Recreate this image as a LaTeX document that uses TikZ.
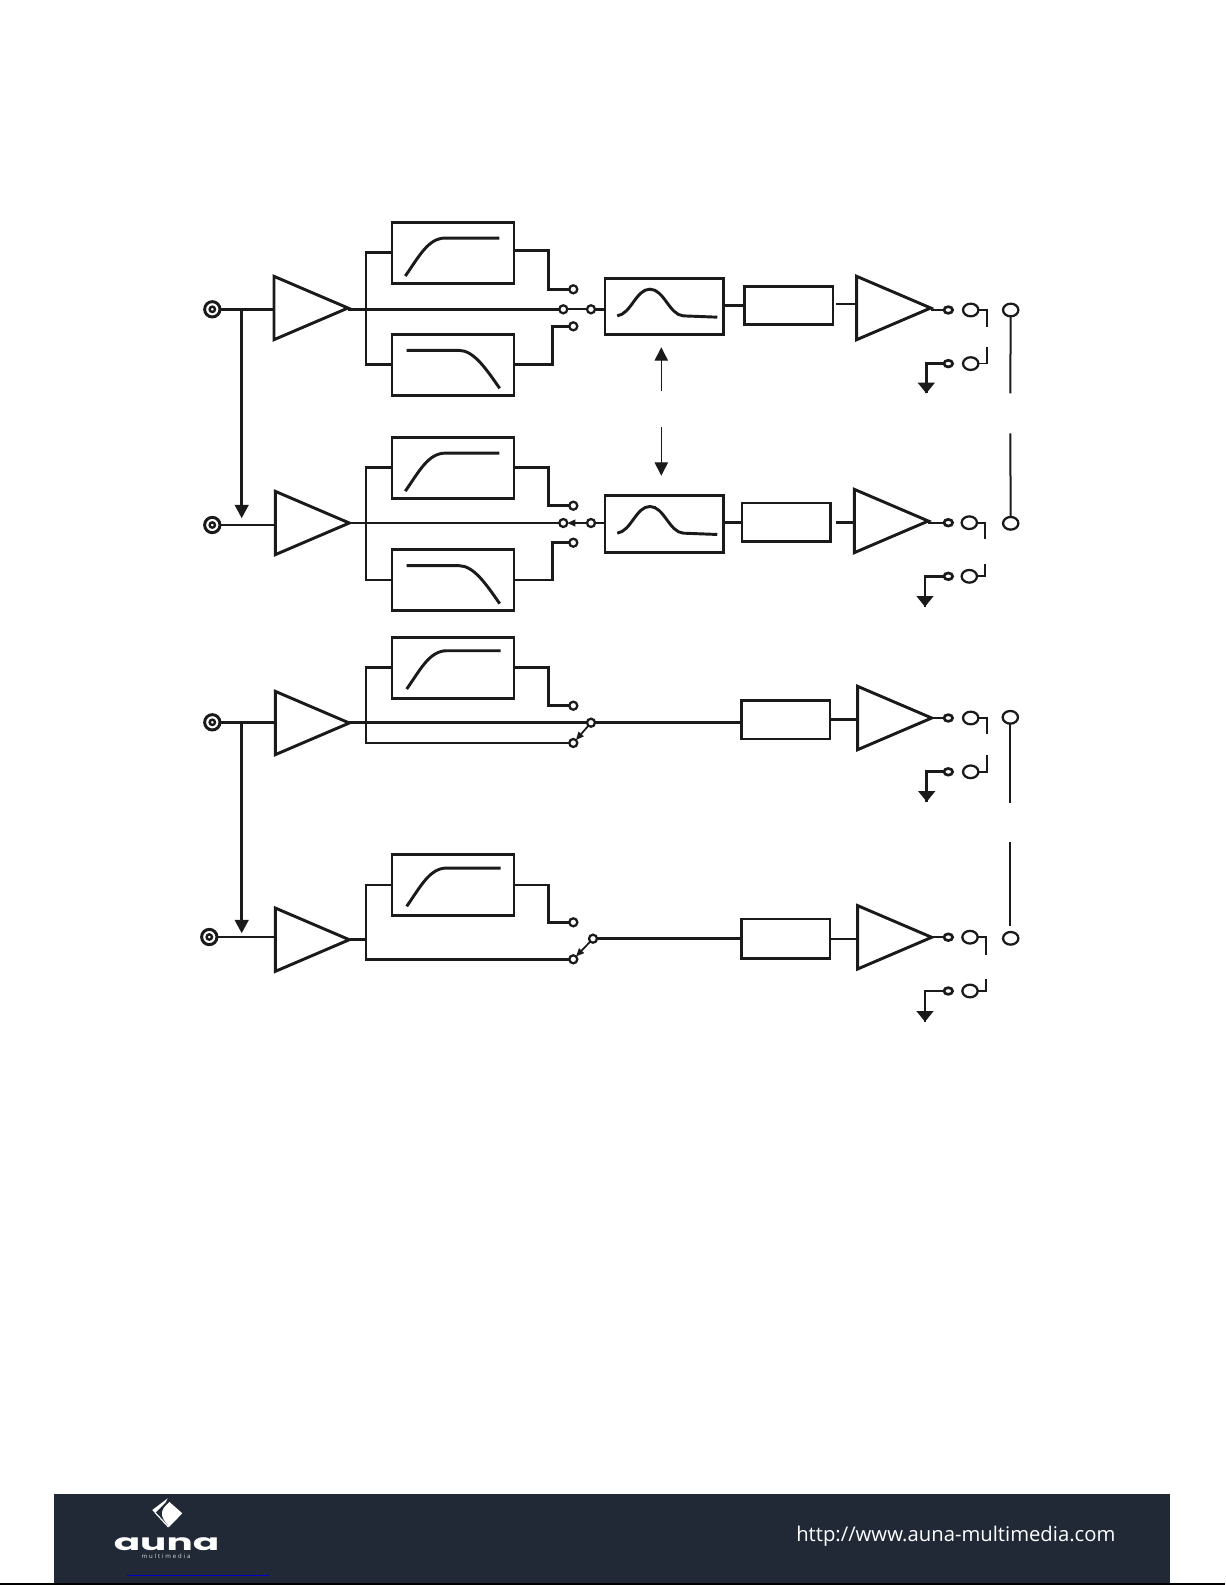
\documentclass[tikz,border=0pt]{standalone}
\usepackage{xcolor}
\usepackage{fontspec}
\usepackage{tikz}
\usetikzlibrary{shapes,shapes.geometric,arrows.meta,positioning,calc}
\newfontfamily\urlfont{Open Sans}
\newfontfamily\logofont{Poppins}
\definecolor{InkBlack}{HTML}{1A1A1A}
\definecolor{BarNavy}{HTML}{212936}
\definecolor{LinkBlue}{HTML}{0000C8}
\tikzset{
  wire/.style={InkBlack,line width=2.2pt},
  thinwire/.style={InkBlack,line width=1.3pt},
  filterbox/.style={draw=InkBlack,line width=2.2pt,fill=white,inner sep=0pt,outer sep=0pt,minimum width=91.5pt,minimum height=46pt},
  eqbox/.style={draw=InkBlack,line width=2.2pt,fill=white,inner sep=0pt,outer sep=0pt,minimum width=89pt,minimum height=42.5pt},
  gainbox/.style={draw=InkBlack,line width=2pt,fill=white,inner sep=0pt,outer sep=0pt,minimum width=66.5pt,minimum height=28.5pt},
  amp/.style={draw=InkBlack,line width=2.2pt,fill=white,isosceles triangle,isosceles triangle stretches,inner sep=0pt,outer sep=0pt,minimum width=47.5pt,minimum height=55.5pt,anchor=apex},
  contact/.style={circle,draw=InkBlack,line width=1.7pt,fill=white,inner sep=0pt,outer sep=0pt,minimum size=6pt},
  outpin/.style={ellipse,draw=InkBlack,line width=2pt,fill=white,inner sep=0pt,outer sep=0pt,minimum width=6.5pt,minimum height=5pt},
  socket/.style={ellipse,draw=InkBlack,line width=1.7pt,fill=white,inner sep=0pt,outer sep=0pt,minimum width=11.5pt,minimum height=9.5pt},
  jack/.style={circle,draw=InkBlack,line width=2.2pt,fill=white,inner sep=0pt,outer sep=0pt,minimum size=11.5pt},
  jackeye/.style={circle,draw=InkBlack,line width=1.8pt,fill=white,inner sep=0pt,outer sep=0pt,minimum size=4pt},
  gnd/.style={isosceles triangle,isosceles triangle stretches,shape border rotate=270,fill=InkBlack,inner sep=0pt,outer sep=0pt,minimum width=13pt,minimum height=8pt,anchor=apex},
  bigtip/.style={-{Triangle[width=10pt,length=10pt]}},
  smalltip/.style={-{Triangle[width=5pt,length=6pt]}},
}

\begin{document}
\begin{tikzpicture}[x=0.75pt,y=-0.75pt]
  \useasboundingbox (0,0) rectangle (1225,1585);
  \fill[white] (0,0) rectangle (1225,1585);

  % inputs
  \node[jack] (ja) at (212.3,309.3) {};
  \node[jack] (jb) at (212.3,525) {};
  \node[jack] (jc) at (212.3,722.3) {};
  \node[jack] (jd) at (209.3,937) {};
  \foreach \n in {ja,jb,jc,jd}
    \node[jackeye] (\n eye) at (\n) {};

  % preamps
  \node[amp] (aa) at (348,308) {};
  \node[amp] (ab) at (349.3,523) {};
  \node[amp] (ac) at (349.3,723) {};
  \node[amp] (ad) at (349.3,939.7) {};

  % filters
  \node[filterbox] (hpa) at (453,252.7) {};
  \node[filterbox] (lpa) at (453,364.7) {};
  \node[filterbox] (hpb) at (453,467.8) {};
  \node[filterbox] (lpb) at (453,580) {};
  \node[filterbox] (hpc) at (453,667.7) {};
  \node[filterbox] (hpd) at (453,885) {};

  % selector contacts
  \node[contact] (ca1) at (573.3,289.3) {};
  \node[contact] (ca2) at (563.3,309.3) {};
  \node[contact] (ca3) at (573.3,326.3) {};
  \node[contact] (ca4) at (591,309.3) {};
  \node[contact] (cb1) at (573.3,505.7) {};
  \node[contact] (cb2) at (563.3,523) {};
  \node[contact] (cb3) at (573.3,542.7) {};
  \node[contact] (cb4) at (591,523) {};
  \node[contact] (cc1) at (573.3,705.7) {};
  \node[contact] (cc3) at (573.3,743) {};
  \node[contact] (cc4) at (591,722.7) {};
  \node[contact] (cd1) at (573.3,922.3) {};
  \node[contact] (cd3) at (573.3,959.3) {};
  \node[contact] (cd4) at (593,938.7) {};

  % eq and gain blocks
  \node[eqbox] (ea) at (664.3,306.5) {};
  \node[eqbox] (eb) at (664.3,523.8) {};
  \node[gainbox] (ga) at (788.5,305.3) {};
  \node[gainbox,minimum height=29pt] (gb) at (786.3,522.3) {};
  \node[gainbox,minimum height=29pt] (gc) at (785.5,719.5) {};
  \node[gainbox,minimum height=29.8pt] (gd) at (785.5,938.8) {};
  \node[amp] (ae) at (930.7,308) {};
  \node[amp] (af) at (928.3,521) {};
  \node[amp] (ag) at (931.7,718) {};
  \node[amp] (ah) at (931.7,937.3) {};

  % filter curves
  \foreach \b in {hpa,hpb}
    \draw[wire] ($(\b.north west)+(13.3,54)$) .. controls +(14,-20) and +(-17,0) .. ++(40,-38) -- ++(54,0);
  \foreach \b in {hpc,hpd}
    \draw[wire] ($(\b.north west)+(14.7,52)$) .. controls +(14,-20) and +(-17,0) .. ++(40,-38.3) -- ++(54,0);
  \foreach \b in {lpa,lpb}
    \draw[wire] ($(\b.north west)+(14.7,16.3)$) -- ++(52,0) .. controls +(15,0) and +(-14,-20) .. ++(41,38);
  \foreach \b in {ea,eb}
    \draw[wire] ($(\b.north west)+(12.3,37.7)$) .. controls +(14,-2) and +(-14,0) .. ++(32.7,-26.7)
      .. controls +(14,0) and +(-14,-1) .. ++(33.3,26.7) -- ++(34,1.3);

  % inputs to amps
  \foreach \j/\a in {ja/aa,jb/ab,jc/ac,jd/ad}
    \draw[wire] (\j) -- (\j -| \a.lower side);
  \coordinate (splita) at (241.7,309.3);
  \coordinate (tipa) at (241.7,518.3);
  \coordinate (splitc) at (241.7,724);
  \coordinate (tipc) at (241.7,933.3);
  \draw[wire,bigtip] (splita) -- (tipa);
  \draw[wire,bigtip] (splitc) -- (tipc);

  % top pair
  \coordinate (busa) at (366,309.3);
  \coordinate (busb) at (366,522.3);
  \coordinate (busc) at (366,722.3);
  \coordinate (busd) at (366,939.7);
  \draw[wire] (ca2.west -| aa.apex) -- (ca2.west);
  \draw[wire] (hpa.west) -| (busa) |- (lpa.west);
  \draw[wire] ([yshift=2pt]hpa.east) -| ($(ca1.west)+(-21,0)$) -- (ca1.west);
  \draw[wire] (lpa.east) -| ($(ca3.west)+(-17,0)$) -- (ca3.west);
  \draw[thinwire] (ca2) -- (ca4);
  \draw[wire] (ca4) -- (ca4 -| ea.west);

  \draw[wire] (cb2.west -| ab.apex) -- (cb2.west);
  \draw[wire] (hpb.west) -| (busb) |- (lpb.west);
  \draw[wire] (hpb.east) -| ($(cb1.west)+(-21,0)$) -- (cb1.west);
  \draw[wire] (lpb.east) -| ($(cb3.west)+(-17,0)$) -- (cb3.west);
  \draw[thinwire,smalltip] (cb4) -- (cb2);
  \draw[wire] (cb4) -- (cb4 -| eb.west);

  % lower pair
  \draw[wire] (cc4.west -| ac.apex) -- (cc4.west);
  \draw[wire] (hpc.west) -| (busc) |- (cc3.west);
  \draw[wire] (hpc.east) -| ($(cc1.west)+(-21,0)$) -- (cc1.west);
  \draw[thinwire,smalltip] (cc4) -- (cc3);
  \draw[wire] (cc4.east) -- (cc4.east -| gc.west);

  \draw[wire] (ad.apex) -- (busd);
  \draw[wire] (hpd.west) -| (busd) |- (cd3.west);
  \draw[wire] (hpd.east) -| ($(cd1.west)+(-21,0)$) -- (cd1.west);
  \draw[thinwire,smalltip] (cd4) -- (cd3);
  \draw[wire] (cd4.east) -- (cd4.east -| gd.west);

  % blocks to output amps
  \draw[wire] (ea.east |- ga.west) -- (ga.west);
  \draw[wire] (eb.east |- gb.west) -- (gb.west);
  \draw[wire] ($(ga.east)+(3,-1.3)$) -- ++(20.7,0);
  \draw[wire] ($(gb.east)+(5.3,0)$) -- ++(19,0);
  \draw[wire] (gc.east) -- (gc.east -| ag.lower side);
  \draw[thinwire] (gd.east) -- (gd.east -| ah.lower side);

  % outputs
  \foreach \n/\a/\sx/\bx/\yt/\ya/\yb/\yc/\gx/\gy in {
    a/ae/970.7/987/310/326.7/363.6/347.3/926.3/393.3,
    b/af/969.3/985/522.7/539.3/576.3/564/925/606.7,
    c/ag/970.7/987.3/718/734.3/771.8/755/926.7/801.7,
    d/ah/970/985.7/937.2/955/991/979/925/1021.7}{
    \node[outpin] (pt\n) at (948.3,\yt) {};
    \node[outpin] (pb\n) at (948.3,\yb) {};
    \node[socket] (st\n) at (\sx,\yt) {};
    \node[socket] (sb\n) at (\sx,\yb) {};
    \node[gnd] (g\n) at (\gx,\gy) {};
    \draw[thinwire] (pt\n.west -| \a.apex) -- (pt\n.west);
    \draw[thinwire] (st\n.east) -| (\bx,\ya);
    \draw[thinwire] (sb\n.east) -| (\bx,\yc);
    \draw[wire] (pb\n.west) -| (g\n.apex);
  }

  % speaker terminals
  \node[socket] (ra) at (1010.7,310) {};
  \node[socket] (rb) at (1010.7,523.3) {};
  \node[socket] (rc) at (1010.3,717.3) {};
  \node[socket] (rd) at (1010.7,938.3) {};
  \coordinate (rae) at (1010.3,393.3);
  \coordinate (rbe) at (1010.3,433.3);
  \coordinate (rce) at (1010.3,802.7);
  \coordinate (rde) at (1010.3,842);
  \coordinate (rdf) at (1010.3,926);
  \draw[wire,line width=1.5pt] (ra) -- (rae);
  \draw[wire,line width=1.5pt] (rbe) -- (rb);
  \draw[wire,line width=1.5pt] (rc) -- (rce);
  \draw[wire,line width=1.5pt] (rde) -- (rdf);

  % link arrows
  \coordinate (lka) at (661.3,390.7);
  \coordinate (lkb) at (661.3,347.3);
  \coordinate (lkc) at (661.3,427.3);
  \coordinate (lkd) at (661.3,475.7);
  \draw[InkBlack,line width=0.9pt,bigtip] (lka) -- (lkb);
  \draw[InkBlack,line width=0.9pt,bigtip] (lkc) -- (lkd);

  % footer
  \fill[BarNavy] (54,1494) rectangle (1170,1583);
  \fill[black] (0,1583) rectangle (1225,1584.5);
  \fill[LinkBlue] (127.3,1574.5) rectangle (269.3,1575.8);
  \fill[white] (169.5,1502) -- (182.3,1513.3) -- (169.3,1526.7) .. controls (165,1522) and (161,1517) .. (162,1512) .. controls (163,1508) and (166,1505) .. (169.5,1502) -- cycle;
  \fill[white] (167.7,1498.3) -- (152.3,1510) -- (155,1513) -- (165.5,1502.5) -- cycle;
  \draw[white,line width=0.9pt] (155,1512.5) -- (168.5,1527);
  \node[font=\urlfont\fontsize{15.2pt}{18pt}\selectfont,color=white,anchor=base west,inner sep=0pt] (urltext) at (796,1541) {http://www.auna-multimedia.com};
  \node[font=\logofont\bfseries\fontsize{17pt}{18pt}\selectfont,color=white,anchor=base,inner sep=0pt] (logoword) at (166.5,1550) {\scalebox{1.72}[1]{auna}};
  \node[font=\urlfont\fontsize{4.5pt}{5pt}\selectfont,color=white!85!BarNavy,anchor=base,inner sep=0pt] (logosub) at (166,1558) {m\kern1.4pt u\kern1.4pt l\kern1.4pt t\kern1.4pt i\kern1.4pt m\kern1.4pt e\kern1.4pt d\kern1.4pt i\kern1.4pt a};
\end{tikzpicture}
\end{document}
